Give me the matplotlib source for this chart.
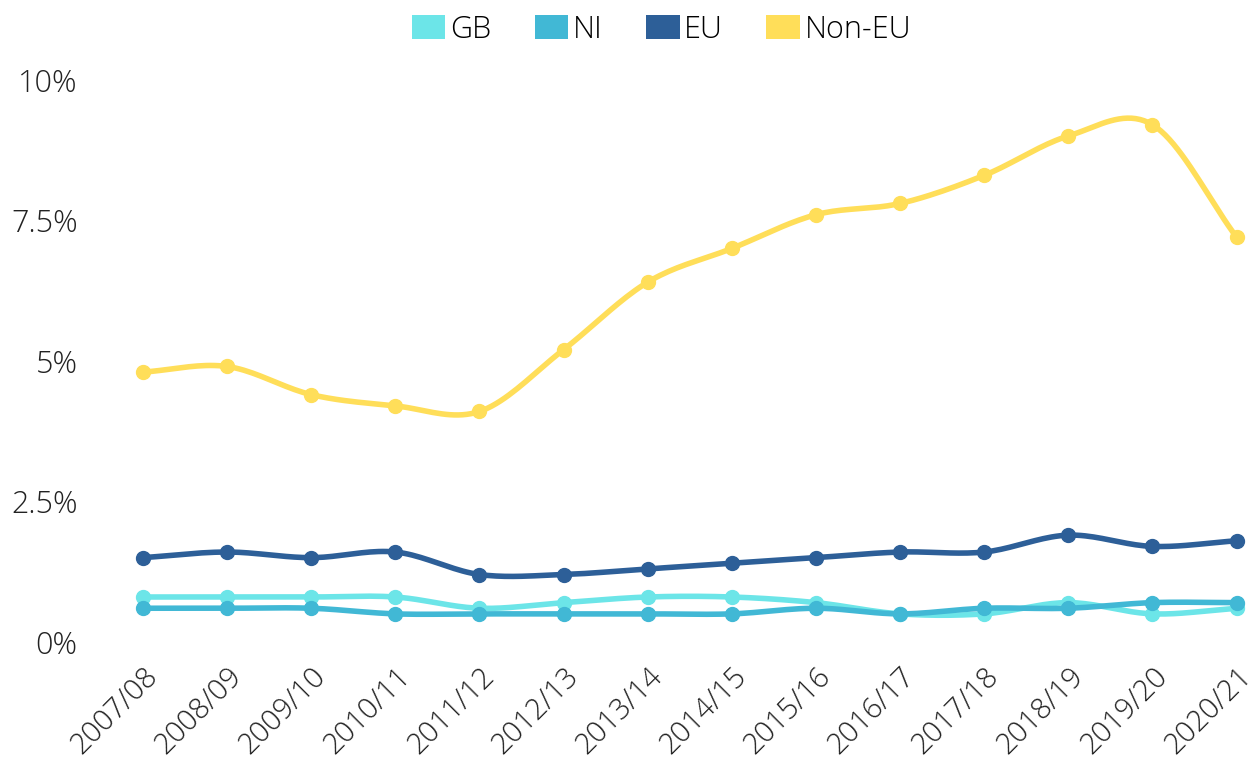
import numpy as np
import matplotlib
matplotlib.use("Agg")
import matplotlib.pyplot as plt
from matplotlib.patches import Patch

plt.rcParams['font.family'] = ['Open Sans', 'DejaVu Sans']

years = ['2007/08', '2008/09', '2009/10', '2010/11', '2011/12', '2012/13', '2013/14',
         '2014/15', '2015/16', '2016/17', '2017/18', '2018/19', '2019/20', '2020/21']

# percentages
gb = [0.8, 0.8, 0.8, 0.8, 0.6, 0.7, 0.8, 0.8, 0.7, 0.5, 0.5, 0.7, 0.5, 0.6]
ni = [0.6, 0.6, 0.6, 0.5, 0.5, 0.5, 0.5, 0.5, 0.6, 0.5, 0.6, 0.6, 0.7, 0.7]
eu = [1.5, 1.6, 1.5, 1.6, 1.2, 1.2, 1.3, 1.4, 1.5, 1.6, 1.6, 1.9, 1.7, 1.8]
non_eu = [4.8, 4.9, 4.4, 4.2, 4.1, 5.2, 6.4, 7.0, 7.6, 7.8, 8.3, 9.0, 9.2, 7.2]

series = [
    ('GB', gb, '#6ce5e8'),
    ('NI', ni, '#41b8d5'),
    ('EU', eu, '#2d5f98'),
    ('Non-EU', non_eu, '#ffde59'),
]

yticks = [0, 2.5, 5, 7.5, 10]
ytick_labels = ['0%', '2.5%', '5%', '7.5%', '10%']


def smooth(x, y, n=20):
    # catmull-rom style hermite curve through the points
    x = np.asarray(x, float)
    y = np.asarray(y, float)
    m = np.gradient(y, x)
    xs, ys = [], []
    for i in range(len(x) - 1):
        h = x[i + 1] - x[i]
        t = np.linspace(0, 1, n, endpoint=False)
        h00 = 2 * t**3 - 3 * t**2 + 1
        h10 = t**3 - 2 * t**2 + t
        h01 = -2 * t**3 + 3 * t**2
        h11 = t**3 - t**2
        xs.append(x[i] + t * h)
        ys.append(h00 * y[i] + h10 * h * m[i] + h01 * y[i + 1] + h11 * h * m[i + 1])
    xs.append([x[-1]])
    ys.append([y[-1]])
    return np.concatenate(xs), np.concatenate(ys)


fig = plt.figure(figsize=(12.53, 7.67), dpi=100)
ax = fig.add_axes([0.104, 0.163, 0.893, 0.733])

x = np.arange(len(years))
for name, vals, color in series:
    sx, sy = smooth(x, vals)
    ax.plot(sx, sy, color=color, lw=4, solid_capstyle='round', clip_on=False)
    ax.plot(x, vals, 'o', color=color, ms=10, clip_on=False)

text_color = '#222222'
ax.set_xlim(-0.15, 13.15)
ax.set_ylim(0, 10)
ax.set_yticks(yticks)
ax.set_yticklabels(ytick_labels, fontsize=22, color=text_color, fontweight='light')
ax.set_xticks(x)
ax.set_xticklabels(years, fontsize=21, color=text_color, fontweight='light',
                   rotation=45, ha='right', va='top', rotation_mode='anchor')
ax.tick_params(axis='y', length=0, pad=38)
ax.tick_params(axis='x', length=0, pad=14)
for s in ax.spines.values():
    s.set_visible(False)

handles = [Patch(facecolor=c, label=n) for n, _, c in series]
fig.legend(handles=handles, loc='upper center', bbox_to_anchor=(0.528, 1.018), ncol=4,
           frameon=False, prop={'size': 22, 'weight': 'light'},
           handlelength=1.1, handleheight=0.8, handletextpad=0.15, columnspacing=1.42)

fig.savefig('out.png', dpi=100)
